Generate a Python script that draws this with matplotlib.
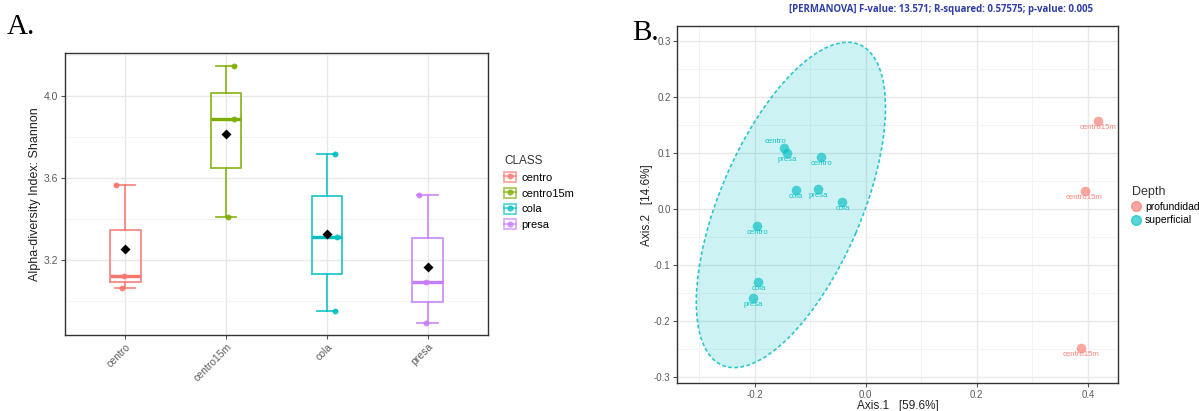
import numpy as np
import matplotlib.pyplot as plt
from matplotlib.patches import Ellipse, Patch
from matplotlib.lines import Line2D
from matplotlib.ticker import MultipleLocator

plt.rcParams['font.family'] = ['Liberation Sans', 'DejaVu Sans']
plt.rcParams['axes.unicode_minus'] = False

# --- alpha diversity (Shannon) per sampling site ---
classes = ['centro', 'centro15m', 'cola', 'presa']
class_colors = ['#F8766D', '#7CAE00', '#00BFC4', '#C77CFF']
shannon_centro = [3.567, 3.123, 3.063]
shannon_centro15m = [4.145, 3.885, 3.408]
shannon_cola = [3.714, 3.311, 2.953]
shannon_presa = [3.515, 3.094, 2.894]
jitter_centro = [-0.09, -0.015, -0.03]
jitter_centro15m = [0.075, 0.075, 0.02]
jitter_cola = [0.08, 0.10, 0.08]
jitter_presa = [-0.085, -0.015, -0.02]

# --- PCoA ordination ---
sample_labels = ['centro', 'presa', 'centro', 'cola', 'presa', 'cola', 'centro', 'cola', 'presa',
                 'centro15m', 'centro15m', 'centro15m']
axis1 = [-0.147, -0.141, -0.080, -0.126, -0.085, -0.042, -0.195, -0.193, -0.203, 0.419, 0.394, 0.388]
axis2 = [0.109, 0.100, 0.093, 0.034, 0.035, 0.012, -0.030, -0.131, -0.159, 0.157, 0.032, -0.249]
depth = ['superficial'] * 9 + ['profundidad'] * 3
depth_levels = ['profundidad', 'superficial']
depth_colors = {'profundidad': '#F8766D', 'superficial': '#00BFC4'}
permanova = '[PERMANOVA] F-value: 13.571; R-squared: 0.57575; p-value: 0.005'

fig = plt.figure(figsize=(11.99, 4.11), dpi=100)

tick_grey = '#5a5a5a'
grid_major = '#e8e8e8'
grid_minor = '#f3f3f3'


def style_panel(ax):
    for s in ax.spines.values():
        s.set_color('#333333')
        s.set_linewidth(1.0)
    ax.grid(True, which='major', color=grid_major, lw=1.0)
    ax.grid(True, which='minor', color=grid_minor, lw=0.7)
    ax.set_axisbelow(True)
    ax.tick_params(which='major', length=3, width=0.8, color='#555555', labelcolor=tick_grey, labelsize=7.5, pad=2)
    ax.tick_params(which='minor', length=0)


# ---------------- panel A ----------------
axA = fig.add_axes([0.0542, 0.1849, 0.3528, 0.6861])
values = [shannon_centro, shannon_centro15m, shannon_cola, shannon_presa]
jitters = [jitter_centro, jitter_centro15m, jitter_cola, jitter_presa]
positions = np.arange(1, len(classes) + 1)

bp = axA.boxplot(values, positions=positions, widths=0.3, capwidths=0.2, showfliers=False,
                 manage_ticks=False)
for i, c in enumerate(class_colors):
    bp['boxes'][i].set(color=c, lw=1.3, alpha=0.85)
    bp['medians'][i].set(color=c, lw=2.4)
    for k in (2 * i, 2 * i + 1):
        bp['whiskers'][k].set(color=c, lw=1.3, alpha=0.85)
        bp['caps'][k].set(color=c, lw=1.3, alpha=0.85)

for i, (vals, jit, c) in enumerate(zip(values, jitters, class_colors)):
    axA.scatter(positions[i] + np.array(jit), vals, s=18, color=c, alpha=0.9, lw=0, zorder=3)
    axA.scatter(positions[i], np.mean(vals), marker='D', s=26, color='black', lw=0, zorder=4)

axA.set_xlim(0.4, 4.6)
axA.set_ylim(2.834, 4.208)
axA.set_xticks(positions)
axA.set_xticklabels(classes, rotation=45, ha='right', rotation_mode='anchor')
axA.set_yticks([3.2, 3.6, 4.0])
axA.yaxis.set_minor_locator(MultipleLocator(0.2))
axA.set_ylabel('Alpha-diversity Index: Shannon', fontsize=9, color='#222222', labelpad=2)
style_panel(axA)

legA_handles = [(Patch(facecolor='white', edgecolor=c, alpha=0.7, lw=1.2),
                 Line2D([], [], color=c, marker='o', markersize=3.5, lw=1.2, alpha=0.7))
                for c in class_colors]
legA = fig.legend(legA_handles, classes, title='CLASS', loc='upper left',
                  bbox_to_anchor=(0.412, 0.647), frameon=False, fontsize=8,
                  title_fontsize=8.5, handlelength=1.1, handleheight=1.0,
                  handletextpad=0.5, labelspacing=0.45)
legA._legend_box.align = 'left'
legA.get_title().set_color('#333333')

fig.text(0.006, 0.917, 'A.', fontsize=21, family='Liberation Serif', va='baseline')

# ---------------- panel B ----------------
axB = fig.add_axes([0.5645, 0.0674, 0.3683, 0.8693])
ax1 = np.array(axis1)
ax2 = np.array(axis2)
is_surf = np.array([d == 'superficial' for d in depth])

# 95% normal confidence ellipse of the surface samples
xs, ys = ax1[is_surf], ax2[is_surf]
cov = np.cov(xs, ys)
evals, evecs = np.linalg.eigh(cov)
radius = np.sqrt(2 * 4.459)  # qf(0.95, 2, n - 1) with n = 9
angle = np.degrees(np.arctan2(evecs[1, 1], evecs[0, 1]))
ell_w = 2 * radius * np.sqrt(evals[1])
ell_h = 2 * radius * np.sqrt(evals[0])
axB.add_patch(Ellipse((xs.mean(), ys.mean()), ell_w, ell_h, angle=angle,
                      facecolor='#00BFC4', alpha=0.2, edgecolor='none', zorder=1))
axB.add_patch(Ellipse((xs.mean(), ys.mean()), ell_w, ell_h, angle=angle,
                      facecolor='none', edgecolor='#2CC6CA', lw=1.2,
                      linestyle=(0, (2.2, 1.5)), zorder=2))

for lvl in depth_levels:
    m = np.array([d == lvl for d in depth])
    axB.scatter(ax1[m], ax2[m], s=48, color=depth_colors[lvl], alpha=0.65, lw=0, zorder=3)

label_nudge = {0: (-9, 6)}
for i, lab in enumerate(sample_labels):
    dx, dy = label_nudge.get(i, (0, -6.5))
    axB.annotate(lab, (axis1[i], axis2[i]), xytext=(dx, dy), textcoords='offset pixels',
                 ha='center', va='center', fontsize=5.6, color=depth_colors[depth[i]],
                 alpha=0.9, zorder=4)

axB.set_xlim(-0.340, 0.455)
axB.set_ylim(-0.312, 0.327)
axB.set_xticks([-0.2, 0.0, 0.2, 0.4])
axB.set_yticks([-0.3, -0.2, -0.1, 0.0, 0.1, 0.2, 0.3])
axB.xaxis.set_minor_locator(MultipleLocator(0.1))
axB.yaxis.set_minor_locator(MultipleLocator(0.05))
style_panel(axB)
axB.tick_params(labelsize=7, pad=1.5)
axB.set_xlabel('Axis.1   [59.6%]', fontsize=8.5, color='#222222', labelpad=0)
axB.set_ylabel('Axis.2   [14.6%]', fontsize=8.5, color='#222222', labelpad=1)

fig.text(0.785, 0.978, permanova, fontsize=6.9, fontweight='bold', color='#2F3EA6',
         family=['Open Sans', 'DejaVu Sans'], ha='center', va='center')

legB_handles = [Line2D([], [], color=depth_colors[l], marker='o', markersize=7, lw=0, alpha=0.65)
                for l in depth_levels]
legB = fig.legend(legB_handles, depth_levels, title='Depth', loc='upper left',
                  bbox_to_anchor=(0.936, 0.57), frameon=False, fontsize=7.5,
                  title_fontsize=9, handlelength=0.8, handletextpad=0.5, labelspacing=0.35)
legB._legend_box.align = 'left'
legB.get_title().set_color('#333333')

fig.text(0.527, 0.903, 'B.', fontsize=21, family='Liberation Serif', va='baseline')

fig.savefig('out.png', dpi=100)
